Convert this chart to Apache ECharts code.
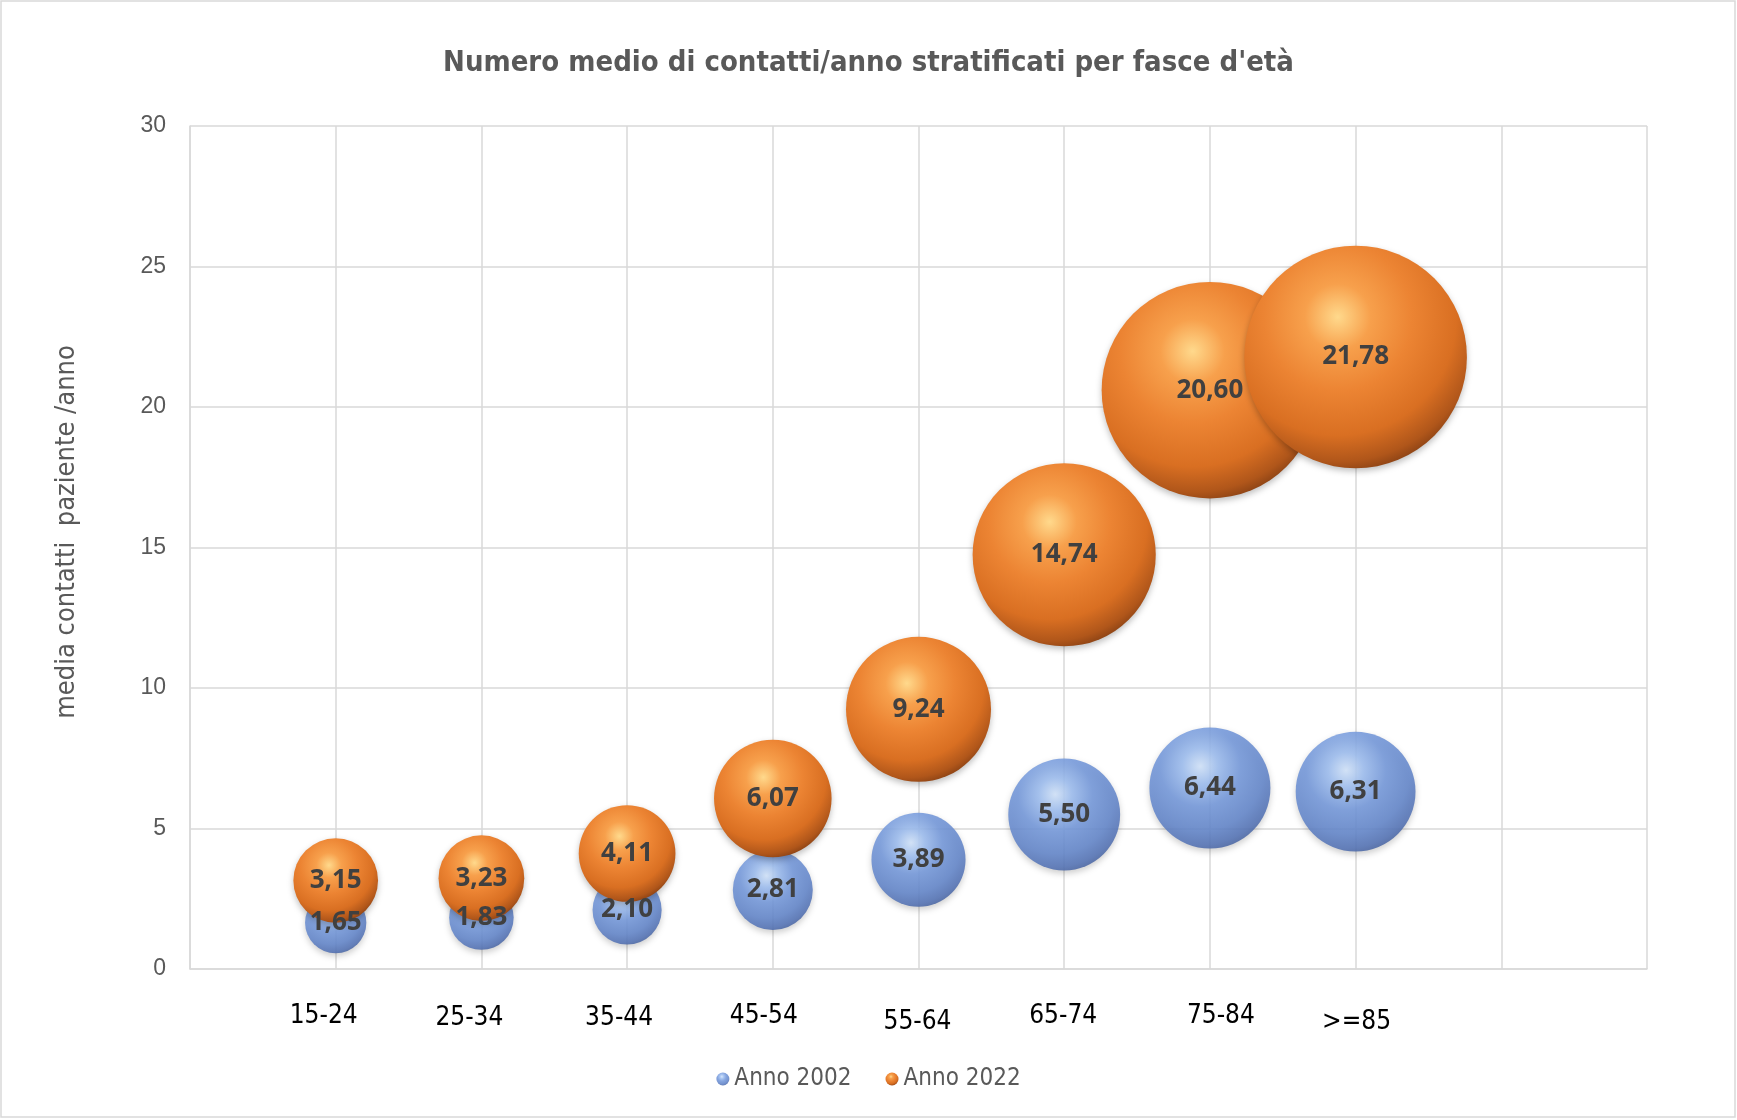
<!DOCTYPE html>
<html>
<head>
<meta charset="utf-8">
<script src="https://cdn.jsdelivr.net/npm/echarts@6/dist/echarts.min.js"></script>
<style>
html,body{margin:0;padding:0;background:#fff;}
#c{width:1737px;height:1120px;}
</style>
</head>
<body>
<div id="c"></div>
<script>
var categories = ['15-24','25-34','35-44','45-54','55-64','65-74','75-84','>=85'];
var xPositions = [1,2,3,4,5,6,7,8];
var anno2002 = [1.65,1.83,2.10,2.81,3.89,5.50,6.44,6.31];
var anno2022 = [3.15,3.23,4.11,6.07,9.24,14.74,20.60,21.78];
var yTicks = [0,5,10,15,20,25,30];

var narrow = "'Liberation Sans Narrow','DejaVu Sans Condensed','Open Sans',sans-serif";

// small per-label nudges (px) of the category texts, as in the original
var labelDx = [-12,-12,-8,-9,-1,-1,11,1];
var labelDy = [-3,1,1,-3,3,0,0,3];

function toData(arr){
  return arr.map(function(v,i){ return [xPositions[i], v, v]; });
}
function fmt(v){ return v.toFixed(2).replace('.', ','); }
function dy2(dy, side){ return (side>0 ? (dy>0 ? 2*dy : 0) : (dy<0 ? -2*dy : 0)); }

var rich = {};
labelDx.forEach(function(dx,i){
  rich['l'+i] = {
    fontFamily:narrow, fontSize:26, color:'#000000',
    padding:[dy2(labelDy[i],1), dx < 0 ? -2*dx : 0, dy2(labelDy[i],-1), dx > 0 ? 2*dx : 0]
  };
});

var orangeGrad = {type:'radial', x:0.42, y:0.32, r:0.74, colorStops:[
  {offset:0, color:'#FFD98C'},
  {offset:0.2, color:'#F7A04C'},
  {offset:0.45, color:'#EC8433'},
  {offset:0.72, color:'#D96F22'},
  {offset:0.88, color:'#B0561A'},
  {offset:1, color:'#743611'}
]};
var blueGrad = {type:'radial', x:0.42, y:0.32, r:0.74, colorStops:[
  {offset:0, color:'#D2E4FB'},
  {offset:0.2, color:'#9EBEF0'},
  {offset:0.45, color:'#7599DB'},
  {offset:0.72, color:'#6487CB'},
  {offset:0.88, color:'#5574B6'},
  {offset:1, color:'#435C95'}
]};
var labelStyle = {show:true, position:'inside', formatter:function(p){ return fmt(p.value[1]); },
  color:'#404040', fontFamily:"'Open Sans',sans-serif", fontWeight:'bold', fontSize:26};

var chart = echarts.init(document.getElementById('c'), null, {renderer:'canvas'});
var option = {
  backgroundColor:'#ffffff',
  animation:false,
  title:{
    text:"Numero medio di contatti/anno stratificati per fasce d'età",
    left:'center', top:44,
    textStyle:{fontFamily:narrow, fontWeight:'bold', fontSize:29, color:'#595959'}
  },
  graphic:[{
    type:'rect', shape:{x:1, y:1, width:1734, height:1116},
    style:{fill:'none', stroke:'#d9d9d9', lineWidth:1.5}, silent:true, z:-1
  }],
  legend:{
    data:['Anno 2002','Anno 2022'],
    left:'center', top:1062,
    icon:'circle', itemWidth:13, itemHeight:13, itemGap:34,
    textStyle:{fontFamily:narrow, fontSize:24, color:'#595959'}
  },
  grid:{left:190, right:90, top:126, bottom:151, containLabel:false},
  xAxis:{
    type:'value', min:0, max:10, interval:1,
    axisLine:{show:true, lineStyle:{color:'#d9d9d9', width:1.5}},
    axisTick:{show:false},
    splitLine:{show:true, lineStyle:{color:'#d9d9d9', width:1.5}},
    axisLabel:{
      margin:34, color:'#000000', fontFamily:narrow, fontSize:26, rich:rich,
      formatter:function(v){ return (v>=1 && v<=categories.length) ? '{l'+(v-1)+'|'+categories[v-1]+'}' : ''; }
    }
  },
  yAxis:{
    type:'value', min:yTicks[0], max:yTicks[yTicks.length-1], interval:5,
    name:'media contatti  paziente /anno',
    nameLocation:'middle', nameGap:110, nameRotate:90,
    nameTextStyle:{fontFamily:narrow, fontSize:27, color:'#595959', padding:[0,0,0,31]},
    axisLine:{show:true, lineStyle:{color:'#d9d9d9', width:1.5}},
    axisTick:{show:false},
    splitLine:{show:true, lineStyle:{color:'#d9d9d9', width:1.5}},
    axisLabel:{margin:24, color:'#595959', fontFamily:"'Liberation Sans','Open Sans',sans-serif", fontSize:23}
  },
  series:[
    {
      name:'Anno 2002', type:'scatter', data:toData(anno2002),
      symbolSize:function(d){ return 47.7*Math.sqrt(d[2]); },
      itemStyle:{color:blueGrad, opacity:0.88, shadowBlur:6, shadowColor:'rgba(0,0,0,0.22)', shadowOffsetY:3},
      label:{show:false},
      z:2
    },
    {
      name:'Anno 2022', type:'scatter', data:toData(anno2022),
      symbolSize:function(d){ return 47.7*Math.sqrt(d[2]); },
      itemStyle:{color:orangeGrad, opacity:1, shadowBlur:6, shadowColor:'rgba(0,0,0,0.25)', shadowOffsetY:3},
      label:labelStyle,
      z:3
    },
    {
      name:'Anno 2002', type:'scatter', data:toData(anno2002),
      symbolSize:function(d){ return 47.7*Math.sqrt(d[2]); },
      itemStyle:{color:'rgba(0,0,0,0)', opacity:1, borderWidth:0},
      emphasis:{disabled:true},
      label:labelStyle,
      silent:true,
      z:4
    }
  ]
};
chart.setOption(option);
</script>
</body>
</html>
